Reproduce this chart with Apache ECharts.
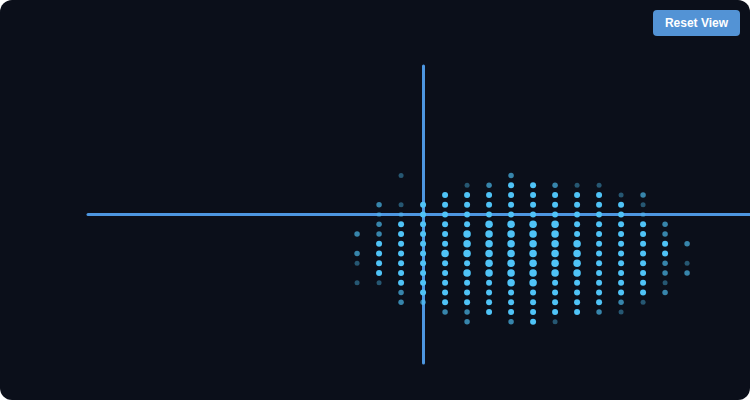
<!DOCTYPE html>
<html>
<head>
    <meta charset="UTF-8">
    <title>Dot grid</title>
    <script src="https://cdn.jsdelivr.net/npm/echarts@6/dist/echarts.min.js"></script>
    <style>
        html, body { margin: 0; padding: 0; background: #ffffff; }
        #wrap {
            position: relative;
            width: 750px;
            height: 400px;
            border-radius: 12px;
            overflow: hidden;
            background: #0b0f1a;
        }
        #main { width: 750px; height: 400px; }
        #reset {
            position: absolute;
            left: 653px;
            top: 10px;
            width: 87px;
            height: 26px;
            border: none;
            border-radius: 4px;
            background: #5393d5;
            color: #ffffff;
            font: bold 12px "Liberation Sans", Arial, sans-serif;
            cursor: pointer;
            padding: 0;
        }
    </style>
</head>
<body>
<div id="wrap">
    <div id="main"></div>
    <button id="reset">Reset View</button>
</div>
<script type="text/javascript">
    // column x values and row y values of the dot grid
    var xCols = [-3, -2, -1, 0, 1, 2, 3, 4, 5, 6, 7, 8, 9, 10, 11, 12];
    var yRows = [4, 3, 2, 1, 0, -1, -2, -3, -4, -5, -6, -7, -8, -9, -10, -11];

    // intensity per column, top row (y=4) to bottom row (y=-11); 0 = no dot
    var colM3 = [0, 0, 0, 0, 0, 0, 2, 0, 2, 1, 0, 1, 0, 0, 0, 0];
    var colM2 = [0, 0, 0, 2, 1, 2, 2, 3, 3, 3, 3, 1, 0, 0, 0, 0];
    var colM1 = [1, 0, 0, 1, 1, 3, 3, 3, 3, 3, 3, 3, 2, 2, 0, 0];
    var col0  = [0, 0, 0, 3, 3, 3, 3, 3, 3, 3, 3, 3, 3, 2, 0, 0];
    var col1  = [0, 0, 3, 3, 3, 3, 3, 3, 4, 3, 3, 3, 3, 3, 2, 0];
    var col2  = [0, 1, 3, 3, 3, 3, 4, 4, 4, 3, 4, 3, 3, 3, 2, 2];
    var col3  = [0, 2, 3, 3, 3, 4, 4, 4, 4, 4, 4, 3, 3, 3, 3, 0];
    var col4  = [2, 3, 3, 3, 3, 4, 4, 4, 4, 4, 4, 4, 3, 3, 3, 2];
    var col5  = [0, 3, 3, 3, 3, 4, 4, 4, 4, 4, 4, 4, 3, 3, 3, 3];
    var col6  = [0, 2, 3, 3, 3, 4, 4, 4, 4, 4, 4, 3, 3, 3, 3, 1];
    var col7  = [0, 1, 3, 3, 3, 3, 3, 4, 4, 4, 4, 3, 3, 3, 3, 0];
    var col8  = [0, 1, 3, 3, 3, 3, 3, 3, 3, 3, 3, 3, 3, 3, 2, 0];
    var col9  = [0, 0, 1, 3, 3, 3, 3, 3, 3, 3, 3, 3, 3, 2, 1, 0];
    var col10 = [0, 0, 2, 1, 1, 3, 3, 3, 3, 3, 3, 3, 3, 1, 0, 0];
    var col11 = [0, 0, 0, 0, 0, 2, 2, 3, 3, 2, 2, 1, 2, 0, 0, 0];
    var col12 = [0, 0, 0, 0, 0, 0, 0, 2, 0, 1, 2, 0, 0, 0, 0, 0];
    var levels = [colM3, colM2, colM1, col0, col1, col2, col3, col4,
                  col5, col6, col7, col8, col9, col10, col11, col12];

    // look of each intensity level
    var levelSize = [0, 5, 5.5, 6, 7.5];
    var levelOpacity = [0, 0.4, 0.66, 1, 1];

    var points = [];
    for (var i = 0; i < xCols.length; i++) {
        for (var j = 0; j < yRows.length; j++) {
            var lv = levels[i][j];
            if (!lv) continue;
            points.push({
                value: [xCols[i], yRows[j]],
                symbolSize: levelSize[lv],
                itemStyle: {opacity: levelOpacity[lv]}
            });
        }
    }

    var axisLine = {show: true, onZero: true, lineStyle: {color: '#4d96e0', width: 3}};

    var myChart = echarts.init(document.getElementById('main'), null, {renderer: 'canvas'});
    var option = {
        backgroundColor: 'transparent',
        animation: false,
        grid: {left: 88, top: 66, right: 0, bottom: 37},
        xAxis: {
            type: 'value', min: -15.23, max: 14.86,
            axisLine: axisLine,
            axisTick: {show: false}, axisLabel: {show: false}, splitLine: {show: false}
        },
        yAxis: {
            type: 'value', min: -15.23, max: 15.23,
            axisLine: axisLine,
            axisTick: {show: false}, axisLabel: {show: false}, splitLine: {show: false}
        },
        series: [{
            type: 'scatter',
            symbol: 'circle',
            itemStyle: {color: '#4fc3f7'},
            data: points
        }]
    };
    myChart.setOption(option);

    document.getElementById('reset').onclick = function () {
        myChart.setOption(option, true);
    };
</script>
</body>
</html>
